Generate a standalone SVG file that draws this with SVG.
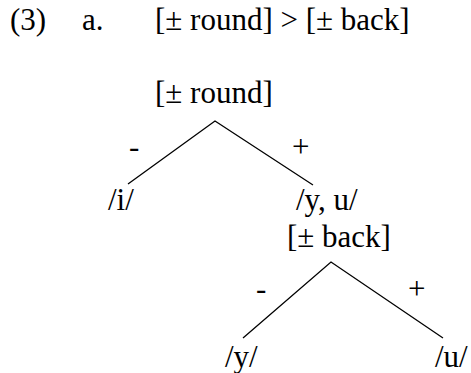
<svg xmlns="http://www.w3.org/2000/svg" width="471" height="373" viewBox="0 0 471 373">
<defs>
<g id="unused"/>
</defs>
<rect width="471" height="373" fill="#fff"/>
<g font-family="Liberation Serif" font-size="31" fill="#000">
<g id="heading">
<text x="10" y="30">(3)</text>
<text x="82" y="30">a.</text>
<text x="155" y="30">[± round] &gt; [± back]</text>
</g>
<g id="n-round"><text x="155" y="103">[± round]</text></g>
<g id="n-i"><text x="108" y="210">/i/</text></g>
<g id="n-yu"><text x="296" y="210">/y, u/</text></g>
<g id="n-back"><text x="287" y="247">[± back]</text></g>
<g id="n-y"><text x="225" y="367">/y/</text></g>
<g id="n-u"><text x="435" y="367">/u/</text></g>
<g id="labels">
<text x="129" y="157">-</text>
<text x="292" y="157">+</text>
<text x="256" y="299">-</text>
<text x="408" y="299">+</text>
</g>
</g>
<g id="connectors" stroke="#000" stroke-width="1.3" fill="none">
<path d="M128,184 L215,121 L313,185"/>
<path d="M243,338 L331,262 L443,338"/>
</g>
</svg>
